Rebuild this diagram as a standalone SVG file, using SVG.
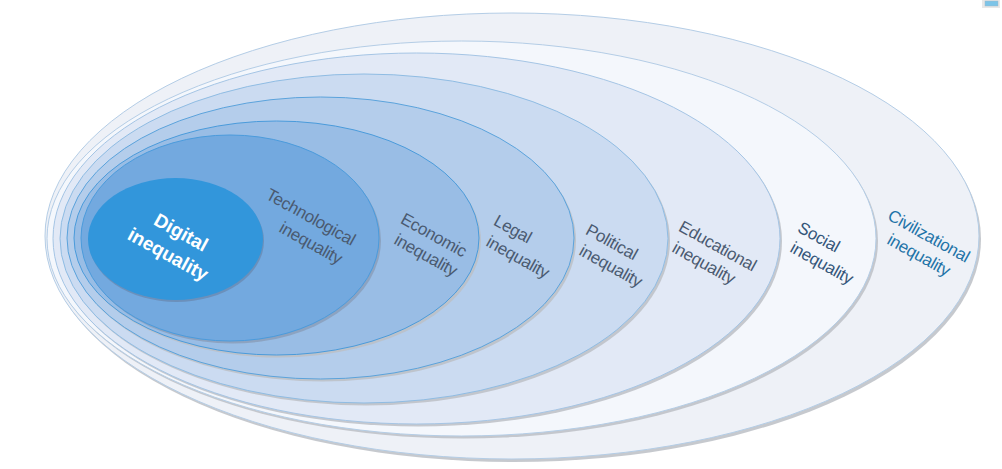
<svg xmlns="http://www.w3.org/2000/svg" width="1002" height="469" viewBox="0 0 1002 469">
<style>
text{font-family:"Liberation Sans",Arial,sans-serif;font-size:17px;fill:#4a5a70;text-anchor:middle;letter-spacing:-.3px}
.s{fill:#bcbfc6;stroke:none;opacity:.85}
.e{stroke-width:1}
</style>
<rect width="1002" height="469" fill="#fff"/>
<g id="civilizational"><ellipse class="s" cx="514" cy="239" rx="467" ry="223"/><ellipse class="e" cx="512" cy="236" rx="467" ry="223" fill="#eef1f7" stroke="#b4cde6"/><text transform="translate(926 241) rotate(29)" style="fill:#1f74a8">Civilizational</text><text transform="translate(916 260) rotate(29)" style="fill:#1f74a8">inequality</text></g>
<g id="social"><ellipse class="s" cx="463.500" cy="241" rx="414.500" ry="197.500"/><ellipse class="e" cx="461.500" cy="238.500" rx="414.500" ry="197.500" fill="#f4f7fc" stroke="#b4cde6"/><text transform="translate(816 242) rotate(29)" style="fill:#34567a">Social</text><text transform="translate(819 268) rotate(29)" style="fill:#34567a">inequality</text></g>
<g id="educational"><ellipse class="s" cx="418.500" cy="241" rx="363.500" ry="185.500"/><ellipse class="e" cx="416.500" cy="238.500" rx="363.500" ry="185.500" fill="#e2e9f6" stroke="#a5c5e5"/><text transform="translate(715 251) rotate(29)">Educational</text><text transform="translate(701 268) rotate(29)">inequality</text></g>
<g id="political"><ellipse class="s" cx="366" cy="241" rx="304" ry="164.500"/><ellipse class="e" cx="364" cy="238.500" rx="304" ry="164.500" fill="#cbdbf1" stroke="#8fbce3"/><text transform="translate(609 247) rotate(29)">Political</text><text transform="translate(608 271) rotate(29)">inequality</text></g>
<g id="legal"><ellipse class="s" cx="322.500" cy="240.500" rx="253.500" ry="141"/><ellipse class="e" cx="320.500" cy="238" rx="253.500" ry="141" fill="#b4cdeb" stroke="#5ba3dc"/><text transform="translate(510 234) rotate(29)">Legal</text><text transform="translate(515 262) rotate(29)">inequality</text></g>
<g id="economic"><ellipse class="s" cx="278.500" cy="240.500" rx="202.500" ry="117"/><ellipse class="e" cx="276.500" cy="238" rx="202.500" ry="117" fill="#99bde5" stroke="#4a9bdb"/><text transform="translate(431 240) rotate(29)">Economic</text><text transform="translate(423 260) rotate(29)">inequality</text></g>
<g id="technological"><ellipse class="s" cx="232" cy="240.500" rx="149" ry="103" style="fill:#8a9fbb"/><ellipse class="e" cx="230" cy="238" rx="149" ry="103" fill="#73a9df" stroke="#4b9bdc"/><text transform="translate(308 222) rotate(29)">Technological</text><text transform="translate(308 248) rotate(29)">inequality</text></g>
<g id="digital"><ellipse class="s" cx="176.500" cy="241" rx="87.500" ry="61" style="fill:#6a8cb5"/><ellipse cx="175.500" cy="239" rx="87.500" ry="61" fill="#3296db"/><text transform="translate(178 238) rotate(29)" style="fill:#fff;font-weight:bold;font-size:19px;letter-spacing:0">Digital</text><text transform="translate(165 260) rotate(29)" style="fill:#fff;font-weight:bold;font-size:19px;letter-spacing:0">inequality</text></g>
<g id="icon"><rect x="982" y="0" width="18" height="8" fill="#e8e8e8"/><rect x="985" y="1" width="13" height="5" fill="#7cc4e8" stroke="#9fb8c8" stroke-width=".5"/></g>
<g id="connectors"/>
</svg>
